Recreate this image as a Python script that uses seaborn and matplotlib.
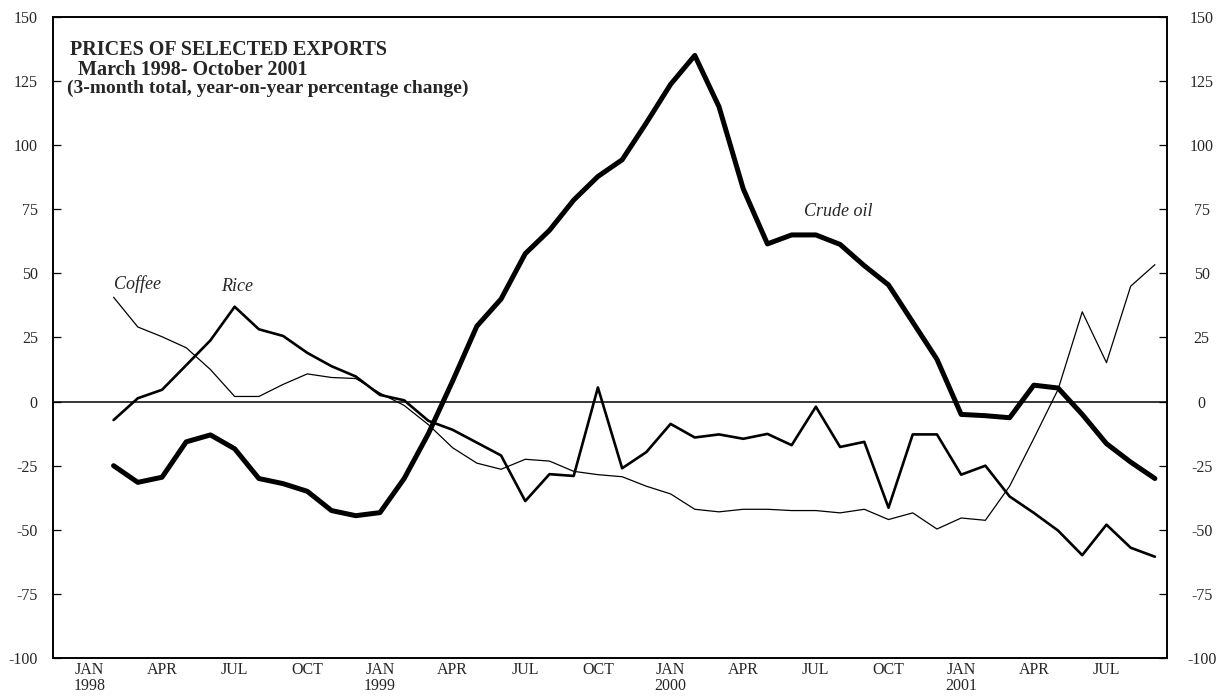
import numpy as np
import pandas as pd
import matplotlib
matplotlib.use("Agg")
import matplotlib.pyplot as plt
import seaborn as sns

# monthly values, March 1998 - October 2001 (3-month total, y-o-y % change)
months = pd.date_range("1998-03-01", "2001-10-01", freq="MS")

crude_oil = [-25, -31.5, -29.5, -15.7, -13, -18.4, -30, -32, -35, -42.5,
             -44.5, -43.3, -30, -12.5, 8, 29.4, 40, 57.7, 66.8, 78.6, 87.8, 94.3,
             108.7, 123.7, 135, 115, 83, 61.5, 65, 65, 61.3, 53, 45.5, 31,
             16.5, -5, -5.5, -6.3, 6.4, 5.3, -5, -16.4, -23.6, -30]

rice = [-7.2, 1.3, 4.6, 14.2, 23.9, 37, 28.2, 25.6, 19, 13.8,
        9.8, 2.6, 0.5, -7.5, -11, -16, -21, -38.8, -28.3, -29, 5.5, -26,
        -19.7, -8.7, -14, -12.8, -14.5, -12.6, -17, -2, -17.7, -15.7, -41.4, -12.8,
        -12.8, -28.5, -25, -37, -43.4, -50.3, -59.9, -48, -57, -60.5]

coffee = [40.7, 29.1, 25.3, 21, 12.5, 2, 2, 6.7, 10.8, 9.4,
          9, 3.3, -1.5, -9, -18, -24, -26.4, -22.5, -23.2, -27.2, -28.5, -29.3,
          -33, -36, -42, -43, -42, -42, -42.5, -42.5, -43.4, -42, -46, -43.4,
          -49.7, -45.4, -46.3, -33, -14.4, 4.7, 35, 15.2, 45, 53.4]

quarter_labels = ["JAN\n1998", "APR", "JUL", "OCT",
                  "JAN\n1999", "APR", "JUL", "OCT",
                  "JAN\n2000", "APR", "JUL", "OCT",
                  "JAN\n2001", "APR", "JUL"]
y_ticks = [150, 125, 100, 75, 50, 25, 0, -25, -50, -75, -100]

# month centres counted from January 1998
pos = (months.year - 1998) * 12 + months.month - 1 + 0.5
df = pd.DataFrame({"pos": pos, "Crude oil": crude_oil, "Rice": rice, "Coffee": coffee})

sns.set_style("white")
plt.rcParams["font.family"] = ["Liberation Serif", "DejaVu Serif"]

fig = plt.figure(figsize=(12.22, 6.96), dpi=100)
ax = fig.add_axes([0.0434, 0.0546, 0.9116, 0.921])

ax.axhline(0, color="black", lw=1.1, zorder=1)
sns.lineplot(data=df, x="pos", y="Coffee", ax=ax, color="black", lw=0.9)
sns.lineplot(data=df, x="pos", y="Rice", ax=ax, color="black", lw=1.9)
sns.lineplot(data=df, x="pos", y="Crude oil", ax=ax, color="black", lw=3.6)

ax.set_xlim(0, 46)
ax.set_ylim(-100, 150)
ax.set_xlabel("")
ax.set_ylabel("")

# quarter boundaries as ticks, labels centred in each quarter
ax.set_xticks(np.arange(3, 46, 3))
ax.set_xticklabels([])
ax.set_xticks(np.arange(1.5, 45, 3), minor=True)
ax.set_xticklabels(quarter_labels, minor=True, fontsize=11.5, linespacing=1.0)
ax.tick_params(axis="x", which="major", direction="in", length=7, width=0.9, color="black")
ax.tick_params(axis="x", which="minor", length=0, pad=3)

ax.set_yticks(y_ticks)
ax.set_yticklabels([str(v) for v in y_ticks], fontsize=11.5)
ax.tick_params(axis="y", direction="in", length=6, width=0.9, color="black", pad=11)

ax2 = ax.twinx()
ax2.set_ylim(-100, 150)
ax2.set_yticks(y_ticks)
ax2.set_yticklabels([str(v) for v in y_ticks], fontsize=11.5, ha="center")
ax2.tick_params(axis="y", direction="in", length=6, width=0.9, color="black", pad=25)

for a in (ax, ax2):
    for s in a.spines.values():
        s.set_color("black")
        s.set_linewidth(1.2)

ax.text(0.0153, 0.949, "PRICES OF SELECTED EXPORTS", transform=ax.transAxes,
        fontsize=14.5, fontweight="bold", va="center", ha="left")
ax.text(0.0225, 0.918, "March 1998- October 2001", transform=ax.transAxes,
        fontsize=14.5, fontweight="bold", va="center", ha="left")
ax.text(0.0125, 0.888, "(3-month total, year-on-year percentage change)", transform=ax.transAxes,
        fontsize=14, fontweight="bold", va="center", ha="left")

ax.text(2.5, 46, "Coffee", fontsize=13, style="italic", va="center", ha="left")
ax.text(6.95, 45, "Rice", fontsize=13, style="italic", va="center", ha="left")
ax.text(31.0, 74, "Crude oil", fontsize=13, style="italic", va="center", ha="left")

fig.savefig("out.png", dpi=100)
